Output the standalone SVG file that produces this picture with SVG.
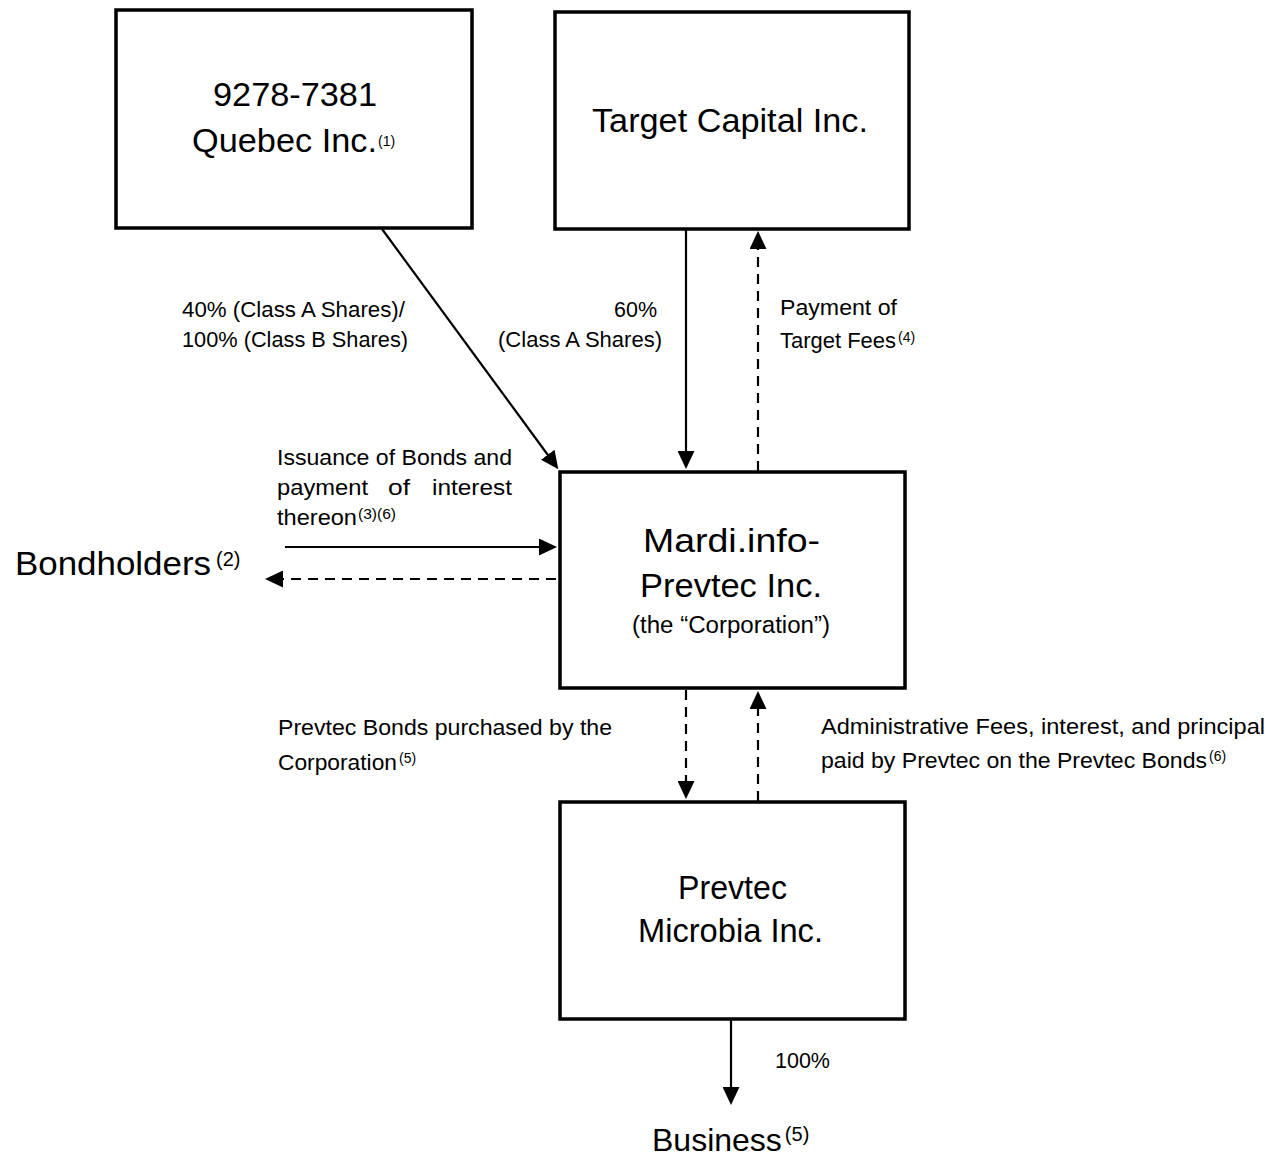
<svg xmlns="http://www.w3.org/2000/svg" width="1276" height="1156" viewBox="0 0 1276 1156">
<style>
text{font-family:"Liberation Sans",Arial,sans-serif;fill:#000}
.big{font-size:34px}
.lbl{font-size:22px}
.sup{font-size:14px}
.supb{font-size:20px}
.box{fill:#fff;stroke:#000;stroke-width:3.5}
.ln{fill:none;stroke:#000;stroke-width:2.2}
.dash{stroke-dasharray:10 7}
</style>
<defs>
<marker id="ah" viewBox="0 0 18 17" refX="9" refY="8.5" markerWidth="18" markerHeight="17" markerUnits="userSpaceOnUse" orient="auto">
<path d="M0,0 L18,8.5 L0,17 z" fill="#000"/>
</marker>
</defs>
<rect width="1276" height="1156" fill="#fff"/>

<g id="quebec">
<rect class="box" x="116" y="10" width="356" height="218"/>
<text class="big" x="213" y="106" textLength="164" lengthAdjust="spacingAndGlyphs">9278-7381</text>
<text class="big" x="192" y="152" textLength="185" lengthAdjust="spacingAndGlyphs">Quebec Inc.</text>
<text class="sup" x="378" y="146" font-size="15">(1)</text>
</g>

<g id="target">
<rect class="box" x="555" y="12" width="354" height="217"/>
<text class="big" x="592" y="132" textLength="276" lengthAdjust="spacingAndGlyphs">Target Capital Inc.</text>
</g>

<g id="mardi">
<rect class="box" x="560" y="472" width="345" height="216"/>
<text class="big" x="643" y="552" textLength="177" lengthAdjust="spacingAndGlyphs">Mardi.info-</text>
<text class="big" x="640" y="597" textLength="182" lengthAdjust="spacingAndGlyphs">Prevtec Inc.</text>
<text x="632" y="633" font-size="23" textLength="198" lengthAdjust="spacingAndGlyphs">(the “Corporation”)</text>
</g>

<g id="prevtec">
<rect class="box" x="560" y="802" width="345" height="217"/>
<text class="big" x="678" y="899" textLength="109" lengthAdjust="spacingAndGlyphs">Prevtec</text>
<text class="big" x="638" y="942" textLength="185" lengthAdjust="spacingAndGlyphs">Microbia Inc.</text>
</g>

<g id="bondholders">
<text class="big" x="15" y="575" textLength="196" lengthAdjust="spacingAndGlyphs">Bondholders</text>
<text class="supb" x="216" y="566">(2)</text>
</g>

<g id="business">
<text x="652" y="1151" font-size="32">Business<tspan font-size="20" dx="3" dy="-10">(5)</tspan></text>
</g>

<g id="connectors">
<line class="ln" x1="382" y1="229" x2="553" y2="462" marker-end="url(#ah)"/>
<line class="ln" x1="686" y1="229" x2="686" y2="460" marker-end="url(#ah)"/>
<line class="ln dash" x1="758" y1="471" x2="758" y2="240" marker-end="url(#ah)"/>
<line class="ln" x1="285" y1="547" x2="548" y2="547" marker-end="url(#ah)"/>
<line class="ln dash" x1="556" y1="579" x2="274" y2="579" marker-end="url(#ah)"/>
<line class="ln dash" x1="686" y1="690" x2="686" y2="790" marker-end="url(#ah)"/>
<line class="ln dash" x1="758" y1="801" x2="758" y2="700" marker-end="url(#ah)"/>
<line class="ln" x1="731" y1="1020" x2="731" y2="1096" marker-end="url(#ah)"/>
</g>

<g id="labels">
<text class="lbl" x="182" y="317" textLength="223" lengthAdjust="spacingAndGlyphs">40% (Class A Shares)/</text>
<text class="lbl" x="182" y="347" textLength="226" lengthAdjust="spacingAndGlyphs">100% (Class B Shares)</text>
<text class="lbl" x="614" y="317" textLength="43" lengthAdjust="spacingAndGlyphs">60%</text>
<text class="lbl" x="498" y="347" textLength="164" lengthAdjust="spacingAndGlyphs">(Class A Shares)</text>
<text class="lbl" x="780" y="315" textLength="117" lengthAdjust="spacingAndGlyphs">Payment of</text>
<text class="lbl" x="780" y="348" textLength="116" lengthAdjust="spacingAndGlyphs">Target Fees</text>
<text class="sup" x="898" y="342">(4)</text>
<text class="lbl" x="277" y="465" textLength="235" lengthAdjust="spacingAndGlyphs">Issuance of Bonds and</text>
<text class="lbl" x="277" y="495" textLength="91" lengthAdjust="spacingAndGlyphs">payment</text>
<text class="lbl" x="388" y="495" textLength="22" lengthAdjust="spacingAndGlyphs">of</text>
<text class="lbl" x="432" y="495" textLength="80" lengthAdjust="spacingAndGlyphs">interest</text>
<text class="lbl" x="277" y="525" textLength="80" lengthAdjust="spacingAndGlyphs">thereon</text>
<text class="sup" x="358" y="519" textLength="38" lengthAdjust="spacingAndGlyphs">(3)(6)</text>
<text class="lbl" x="278" y="735" textLength="334" lengthAdjust="spacingAndGlyphs">Prevtec Bonds purchased by the</text>
<text class="lbl" x="278" y="770" textLength="119" lengthAdjust="spacingAndGlyphs">Corporation</text>
<text class="sup" x="399" y="763">(5)</text>
<text class="lbl" x="821" y="734" textLength="444" lengthAdjust="spacingAndGlyphs">Administrative Fees, interest, and principal</text>
<text class="lbl" x="821" y="768" textLength="386" lengthAdjust="spacingAndGlyphs">paid by Prevtec on the Prevtec Bonds</text>
<text class="sup" x="1209" y="761">(6)</text>
<text class="lbl" x="775" y="1068" textLength="55" lengthAdjust="spacingAndGlyphs">100%</text>
</g>
</svg>
